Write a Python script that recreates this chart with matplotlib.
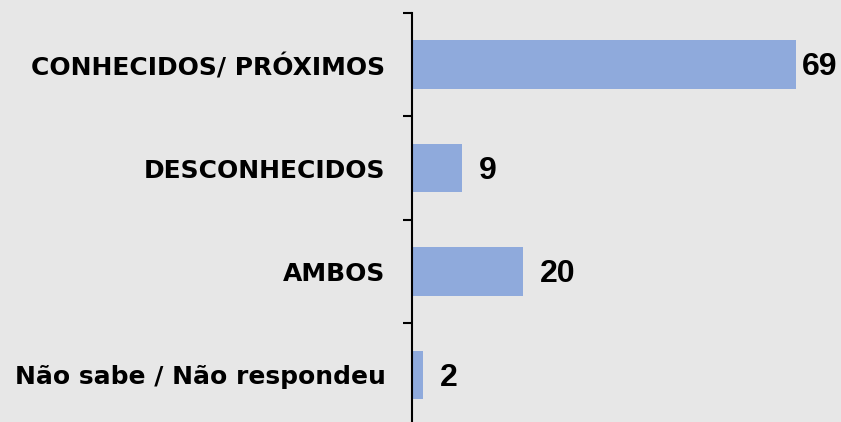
import matplotlib
matplotlib.use("Agg")
from matplotlib import pyplot as plt
import numpy as np

categorias = ["CONHECIDOS/ PRÓXIMOS", "DESCONHECIDOS", "AMBOS", "Não sabe / Não respondeu"]
valores = [69, 9, 20, 2]

fundo = "#e7e7e7"
cor_barra = "#8faadc"

fig = plt.figure(figsize=(8.41, 4.22), dpi=100, facecolor=fundo)
# eixo ocupa da linha vertical (x=412px) ate a borda; o ultimo tick fica fora da figura
ax = fig.add_axes([412 / 841, 1 - 426.6 / 422, 1 - 412 / 841, 413.6 / 422])
ax.set_facecolor(fundo)

pos = np.arange(len(categorias))
ax.barh(pos, valores, height=0.47, color=cor_barra)

escala = 5.565  # px por unidade
ax.set_xlim(0, (841 - 412) / escala)
ax.set_ylim(len(categorias) - 0.5, -0.5)

for lado in ["top", "right", "bottom"]:
    ax.spines[lado].set_visible(False)
ax.spines["left"].set_linewidth(1.5)
ax.spines["left"].set_color("black")
ax.set_xticks([])

ax.set_yticks(pos)
ax.set_yticklabels(categorias, fontfamily="DejaVu Sans", fontweight="bold", fontsize=18)
ax.tick_params(axis="y", which="major", length=0, pad=19)
ax.set_yticks(np.arange(-0.5, len(categorias), 1), minor=True)
ax.tick_params(axis="y", which="minor", length=6.5, width=1.5, color="black")

maximo = max(valores)
for p, v in zip(pos, valores):
    desloc = 4 if v == maximo else 12
    ax.annotate(str(v), (v, p), xytext=(desloc, -2), textcoords="offset points",
                ha="left", va="center", fontfamily="Liberation Sans",
                fontweight="bold", fontsize=23, color="black")

fig.savefig("out.png", dpi=100, facecolor=fundo)
